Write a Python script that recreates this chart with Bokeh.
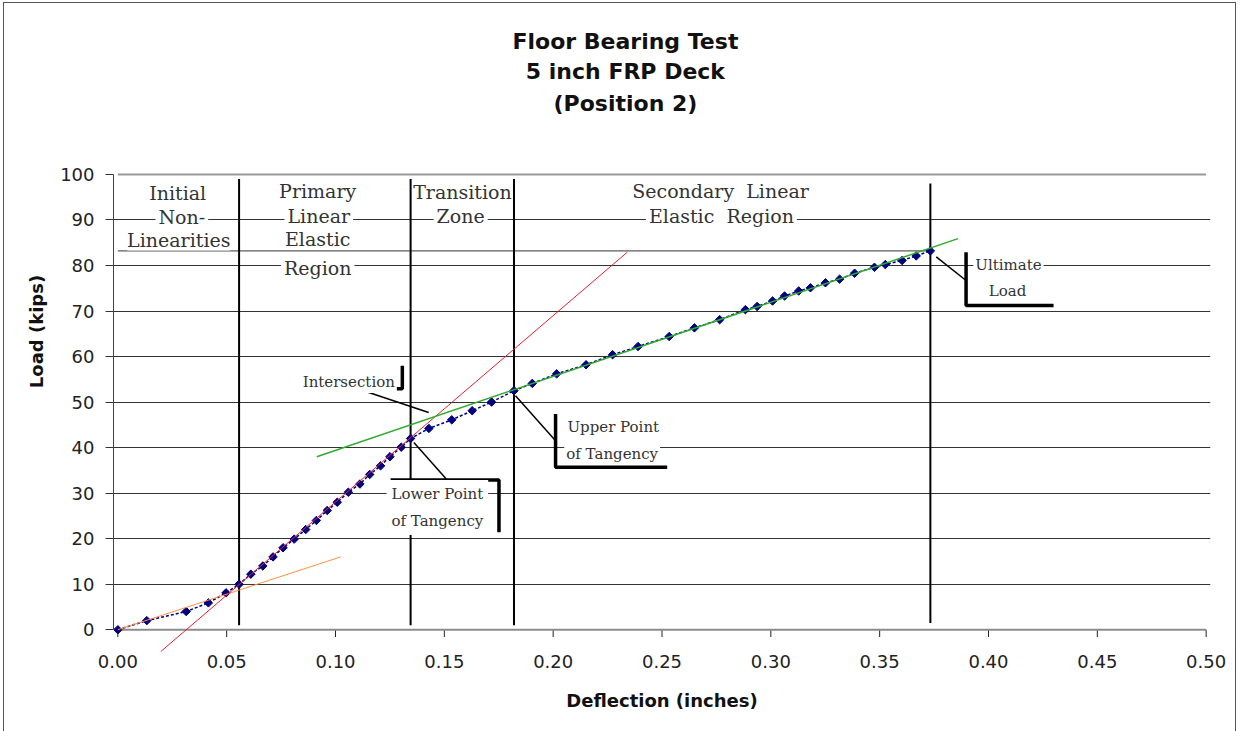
from bokeh.plotting import figure
from bokeh.models import Range1d, FixedTicker, Label, NumeralTickFormatter
from bokeh.embed import file_html
from bokeh.resources import INLINE

# Measured load-deflection response (Position 2)
deflection = [0.0, 0.0133, 0.0314, 0.0416, 0.0497, 0.0557, 0.0611, 0.0666, 0.0713,
              0.0759, 0.0810, 0.0863, 0.0912, 0.0962, 0.1008, 0.1059, 0.1112, 0.1157,
              0.1207, 0.1250, 0.1302, 0.1345, 0.1429, 0.1534, 0.1628, 0.1717, 0.1820,
              0.1904, 0.2016, 0.2151, 0.2273, 0.2390, 0.2533, 0.2649, 0.2765, 0.2883,
              0.2937, 0.3008, 0.3063, 0.3128, 0.3182, 0.3251, 0.3316, 0.3385, 0.3476,
              0.3526, 0.3603, 0.3668, 0.3733]
load = [0.0, 2.0, 4.0, 5.9, 8.1, 10.0, 12.2, 14.0, 16.0,
        18.0, 19.9, 22.0, 24.0, 26.2, 28.0, 30.2, 32.0, 34.1,
        36.0, 38.0, 40.1, 42.0, 44.2, 46.1, 48.1, 50.0, 52.5,
        54.1, 56.2, 58.2, 60.4, 62.2, 64.4, 66.3, 68.1, 70.3,
        71.0, 72.2, 73.3, 74.4, 75.1, 76.2, 77.0, 78.3, 79.6,
        80.2, 81.1, 82.1, 83.2]

# Region boundaries (deflection, in) and ultimate load (kips)
region_bounds = [0.0557, 0.1345, 0.1820, 0.3733]
ultimate_load = 83.2

# Fitted tangent lines (end points)
initial_x, initial_y = [0.0, 0.1024], [0.0, 16.0]
primary_x, primary_y = [0.0197, 0.2340], [-4.8, 82.9]
secondary_x, secondary_y = [0.0914, 0.3860], [38.0, 85.9]

x_ticks = [0.0, 0.05, 0.10, 0.15, 0.20, 0.25, 0.30, 0.35, 0.40, 0.45, 0.50]
y_ticks = [0, 10, 20, 30, 40, 50, 60, 70, 80, 90, 100]
grid_ticks = [10, 20, 30, 40, 50, 60, 70, 80, 90]

title_lines = ["Floor Bearing Test", "5 inch FRP Deck", "(Position 2)"]

SANS = "DejaVu Sans"
SERIF = "DejaVu Serif"
INK = "#333333"

X_MIN, X_MAX = 0.0, 0.5
Y_MIN, Y_MAX = 0, 100

# The frame reaches up to the top of the chart so that the title sits inside it;
# the axes, grid and plot-area edge stop at 100 kips.
p = figure(width=1231, height=728, frame_width=1097, frame_height=642,
           x_range=Range1d(-0.002, 0.502), y_range=Range1d(-5, 136),
           min_border_left=109, min_border_right=25, min_border_top=7,
           min_border_bottom=79, output_backend="svg", toolbar_location=None,
           background_fill_color="white", border_fill_color="white")
p.styles = {"margin-left": "3px", "margin-top": "2px",
            "border-left": "1px solid #555", "border-top": "1px solid #555",
            "border-right": "1px solid #555"}
p.outline_line_color = None

# x axis: labels only, its line and ticks are drawn on the zero-load level
xa = p.xaxis[0]
xa.ticker = FixedTicker(ticks=x_ticks)
xa.formatter = NumeralTickFormatter(format="0.00")
xa.axis_line_color = None
xa.major_tick_line_color = None
xa.minor_tick_line_color = None
xa.major_tick_out = 0
xa.major_tick_in = 0
xa.major_label_standoff = 2
xa.major_label_text_font = SANS
xa.major_label_text_font_size = "18px"
xa.major_label_text_color = "#222222"
xa.axis_label = "Deflection (inches)"
xa.axis_label_text_font = SANS
xa.axis_label_text_font_style = "bold"
xa.axis_label_text_font_size = "18px"
xa.axis_label_text_color = "#111111"
xa.axis_label_standoff = 19

ya = p.yaxis[0]
ya.bounds = (Y_MIN, Y_MAX)
ya.ticker = FixedTicker(ticks=y_ticks)
ya.axis_line_color = "#444444"
ya.major_tick_out = 8
ya.major_tick_in = 0
ya.major_tick_line_color = "#333333"
ya.minor_tick_line_color = None
ya.major_label_standoff = 11
ya.major_label_text_font = SANS
ya.major_label_text_font_size = "18px"
ya.major_label_text_color = "#222222"
ya.axis_label = "Load (kips)"
ya.axis_label_text_font = SANS
ya.axis_label_text_font_style = "bold"
ya.axis_label_text_font_size = "18px"
ya.axis_label_text_color = "#111111"
ya.axis_label_standoff = 10

p.xgrid.visible = False
p.ygrid.ticker = FixedTicker(ticks=grid_ticks)
p.ygrid.grid_line_color = "#333333"
p.ygrid.grid_line_width = 1

# top edge of the plot area, x-axis line and its tick marks
p.line([X_MIN, X_MAX], [Y_MAX, Y_MAX], line_color="#9a9a9a", line_width=2)
p.segment(x0=x_ticks, y0=0, x1=x_ticks, y1=-1.6, line_color="#222222", line_width=1)
p.line([X_MIN, X_MAX], [Y_MIN, Y_MIN], line_color="#8c8c8c", line_width=2)

# ultimate load level and region boundaries
p.segment(x0=0, y0=ultimate_load, x1=region_bounds[-1], y1=ultimate_load,
          line_color="#333333", line_width=1)
p.segment(x0=region_bounds, y0=[1, 1, 1, 1.5], x1=region_bounds, y1=[99, 99, 99, 98],
          line_color="black", line_width=2)

# measured data
p.line(deflection, load, line_color="#000080", line_width=1.5, line_dash="3 2")
p.scatter(deflection, load, marker="square", angle=0.785398, size=6,
          fill_color="#000080", line_color="#000080")

# tangent lines
p.line(initial_x, initial_y, line_color="#ff9040", line_width=1)
p.line(primary_x, primary_y, line_color="#e8202a", line_width=1)
p.line(secondary_x, secondary_y, line_color="#2faa2f", line_width=1.5)

# callout brackets and leaders
bracket_xs = [[0.0848, 0.1307, 0.1307], [0.1253, 0.1751, 0.1751],
              [0.2011, 0.2011, 0.2524], [0.3897, 0.3897, 0.4299]]
bracket_ys = [[52.9, 52.9, 58.0], [32.9, 32.9, 21.4],
              [47.4, 35.7, 35.7], [82.9, 71.2, 71.2]]
p.multi_line(bracket_xs, bracket_ys, line_color="black", line_width=3.5)
leader_x0 = [0.1129, 0.1360, 0.1827, 0.3760]
leader_y0 = [52.5, 41.1, 51.4, 81.9]
leader_x1 = [0.1428, 0.1509, 0.2011, 0.3897]
leader_y1 = [47.7, 33.1, 41.5, 76.7]
p.segment(leader_x0, leader_y0, leader_x1, leader_y1, line_color="black", line_width=1.5)


def text(s, x, y, size, pad=3, font=SERIF, bold=False, color=INK, fill="white"):
    p.add_layout(Label(x=x, y=y, text=s, text_align="center", text_baseline="middle",
                       text_font=font, text_font_size=size, text_color=color,
                       text_font_style="bold" if bold else "normal",
                       background_fill_color=fill, padding=pad))


# region names
region_text = [("Initial", 0.0275, 96.0, 3), ("Non-", 0.0294, 90.6, 3),
               ("Linearities", 0.0280, 85.7, 0),
               ("Primary", 0.0918, 96.4, 3), ("Linear", 0.0923, 90.8, 3),
               ("Elastic", 0.0918, 85.9, 0), ("Region", 0.0918, 79.5, 3),
               ("Transition", 0.1583, 96.1, 0), ("Zone", 0.1575, 90.8, 3),
               ("Secondary \u00a0Linear", 0.2769, 96.4, 3),
               ("Elastic \u00a0Region", 0.2773, 90.8, 3)]
for s, x, y, pad in region_text:
    text(s, x, y, "19px", pad)

# callout texts (the lower-tangency box is padded to hide the boundary line behind it)
callout_text = [("Intersection", 0.1061, 54.4, 2),
                ("Lower Point", 0.1468, 29.8, 5), ("of Tangency", 0.1468, 23.9, 5),
                ("Upper Point", 0.2276, 44.6, 2), ("of Tangency", 0.2271, 38.6, 2),
                ("Ultimate", 0.4092, 80.1, 2), ("Load", 0.4088, 74.5, 2)]
for s, x, y, pad in callout_text:
    text(s, x, y, "15px", pad)

# chart title
for s, y in zip(title_lines, [129.3, 122.5, 115.5]):
    text(s, 0.2332, y, "22px", 0, font=SANS, bold=True, color="#111111", fill=None)

open("out.html", "w").write(file_html(p, INLINE))
